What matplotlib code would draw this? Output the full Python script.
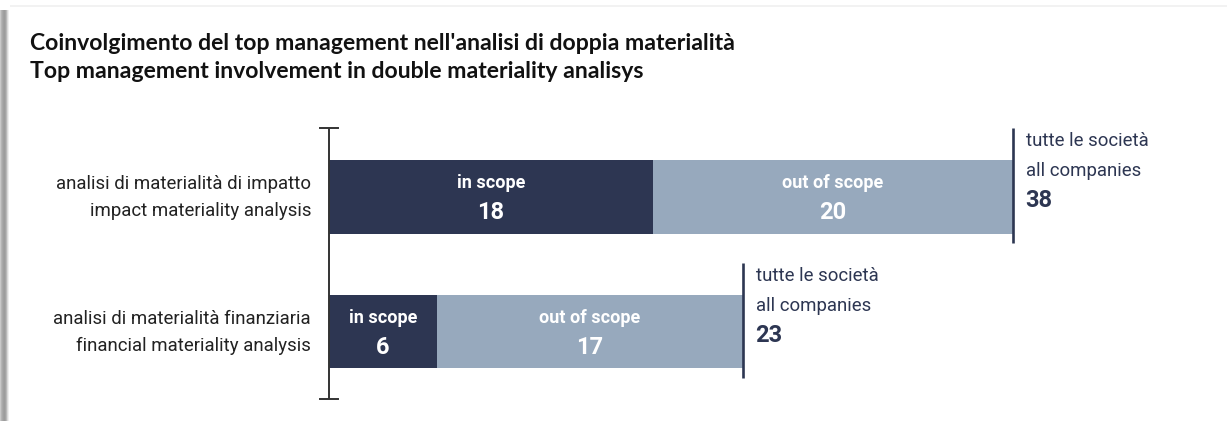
import matplotlib
matplotlib.use("Agg")
import matplotlib.pyplot as plt
from matplotlib.patches import Rectangle

categories = ["analisi di materialità di impatto\nimpact materiality analysis",
              "analisi di materialità finanziaria\nfinancial materiality analysis"]
in_scope = [18, 6]
out_scope = [20, 17]
totals = [38, 23]
title_lines = ["Coinvolgimento del top management nell'analisi di doppia materialità",
               "Top management involvement in double materiality analisys"]

DARK = "#2d3652"
LIGHT = "#97a9bd"
COND = ["Roboto", "DejaVu Sans"]
TITLEF = ["Lato", "DejaVu Sans"]

W, H = 1227, 421
fig = plt.figure(figsize=(W / 100, H / 100), dpi=100)
fig.patch.set_facecolor("white")

# frame decorations
for i, g in enumerate(["#c8c8c8", "#b4b4b4", "#a8a8a8", "#a0a0a0", "#9c9c9c", "#a4a4a4", "#b8b8b8", "#d8d8d8", "#eeeeee"]):
    fig.patches.append(Rectangle((i / W, 0), 1 / W, (H - 10) / H, transform=fig.transFigure,
                                 facecolor=g, edgecolor="none"))
fig.patches.append(Rectangle((10 / W, (H - 7) / H), (W - 10) / W, 2 / H, transform=fig.transFigure,
                             facecolor="#f2f2f2", edgecolor="none"))

fig.text(30 / W, 1 - 44 / H, title_lines[0], fontsize=16.6, fontweight="bold", family=TITLEF,
         color="#111111", va="center", ha="left")
fig.text(30 / W, 1 - 72 / H, title_lines[1], fontsize=16.6, fontweight="bold", family=TITLEF,
         color="#111111", va="center", ha="left")

ax = fig.add_axes([329 / W, 0, 882 / W, 321 / H])
ax.set_xlim(0, 49)
ax.set_ylim(1.663, -0.715)
ax.axis("off")

ys = list(range(len(categories)))
bh = 74 / 135
ax.barh(ys, in_scope, height=bh, color=DARK, edgecolor="none")
ax.barh(ys, out_scope, left=in_scope, height=bh, color=LIGHT, edgecolor="none")

# axis line with caps
ax.plot([0, 0], [-0.507, 1.5], color="#333333", lw=1.4, solid_capstyle="butt", clip_on=False)
ax.plot([-0.5, 0.5], [-0.507, -0.507], color="#333333", lw=1.4, clip_on=False)
ax.plot([-0.5, 0.5], [1.5, 1.5], color="#333333", lw=1.4, clip_on=False)

LS = 13.4
NS = 17
for y, cat, a, b, t in zip(ys, categories, in_scope, out_scope, totals):
    l1, l2 = cat.split("\n")
    ax.text(-1.0, y - 0.093, l1, ha="right", va="center", fontsize=LS, family=COND, color="#222222")
    ax.text(-1.0, y + 0.107, l2, ha="right", va="center", fontsize=LS, family=COND, color="#222222")
    ax.text(a / 2, y - 0.1, "in scope", ha="center", va="center", fontsize=13, fontweight="bold",
            family=COND, color="white")
    ax.text(a / 2, y + 0.122, str(a), ha="center", va="center", fontsize=NS, fontweight="bold",
            family=COND, color="white")
    ax.text(a + b / 2, y - 0.1, "out of scope", ha="center", va="center", fontsize=13,
            fontweight="bold", family=COND, color="white")
    ax.text(a + b / 2, y + 0.122, str(b), ha="center", va="center", fontsize=NS,
            fontweight="bold", family=COND, color="white")
    ax.plot([t, t], [y - 0.511, y + 0.348], color=DARK, lw=1.9, solid_capstyle="butt", clip_on=False)
    ax.text(t + 0.7, y - 0.411, "tutte le società", ha="left", va="center", fontsize=LS,
            family=COND, color=DARK)
    ax.text(t + 0.7, y - 0.189, "all companies", ha="left", va="center", fontsize=LS,
            family=COND, color=DARK)
    ax.text(t + 0.7, y + 0.033, str(t), ha="left", va="center", fontsize=NS, fontweight="bold",
            family=COND, color=DARK)

fig.savefig("out.png", dpi=100, facecolor="white")
